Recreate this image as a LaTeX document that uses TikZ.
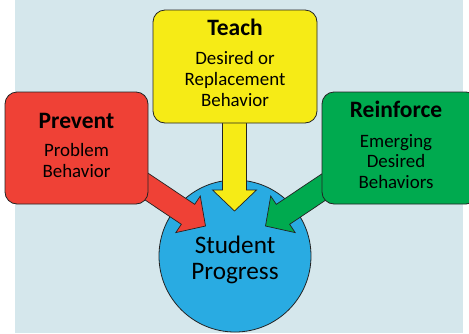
\documentclass[tikz,border=0pt]{standalone}
\usepackage{fontspec}
\setmainfont{Carlito}
\usetikzlibrary{calc}
\definecolor{bgc}{RGB}{213,231,236}
\definecolor{redc}{RGB}{239,65,54}
\definecolor{yelc}{RGB}{246,235,22}
\definecolor{grnc}{RGB}{0,170,79}
\definecolor{bluc}{RGB}{41,171,226}
\definecolor{edgec}{RGB}{35,35,35}
\newcommand{\blkarrow}[3]{%
  \coordinate (#3-base) at ($(#3)!21pt!(#2)$);
  \draw[arrowbody, fill=#1]
    ($(#2)!12pt!90:(#3)$) -- ($(#3-base)!12pt!-90:(#2)$) --
    ($(#3-base)!22pt!-90:(#2)$) -- (#3) --
    ($(#3-base)!22pt!90:(#2)$) -- ($(#3-base)!12pt!90:(#2)$) --
    ($(#2)!12pt!-90:(#3)$) -- cycle;}
\begin{document}
\begin{tikzpicture}[x=1pt,y=-1pt,
  box/.style={draw=edgec, line width=0.8pt, rounded corners=12pt, inner sep=0pt},
  arrowbody/.style={draw=edgec, line width=0.7pt, line join=miter},
  ttl/.style={font=\bfseries\fontsize{23.5}{27}\selectfont, anchor=base, inner sep=0pt},
  txt/.style={font=\fontsize{18.9}{21}\selectfont, anchor=base, inner sep=0pt},
  big/.style={font=\fontsize{25.2}{28}\selectfont, anchor=base, inner sep=0pt}]
\useasboundingbox (0,0) rectangle (469,333);
\fill[bgc] (15,0) rectangle (463,333);
\node[circle, draw=edgec, line width=0.8pt, fill=bluc, minimum size=152pt, inner sep=0pt] (sp) at (235,256) {};
\coordinate (tailr) at (130,175.5);
\coordinate (tipr) at (205.5,226);
\coordinate (taily) at (234.5,115);
\coordinate (tipy) at (234.5,211);
\coordinate (tailg) at (341,175.5);
\coordinate (tipg) at (265.5,226);
\blkarrow{redc}{tailr}{tipr}
\blkarrow{yelc}{taily}{tipy}
\blkarrow{grnc}{tailg}{tipg}
\node[box, fill=yelc, minimum width=164pt, minimum height=113pt] (teach) at (235,66.5) {};
\node[box, fill=redc, minimum width=143pt, minimum height=112pt] (prev) at (76.5,148) {};
\node[box, fill=grnc, minimum width=156pt, minimum height=112pt] (reinf) at (400,148) {};
\node[ttl] (t1) at (235,35) {Teach};
\node[txt] (t2) at (235,64) {Desired or};
\node[txt] (t3) at (235,85) {Replacement};
\node[txt] (t4) at (235,106) {Behavior};
\node[ttl] (p1) at (76.5,128) {Prevent};
\node[txt] (p2) at (76.5,156.5) {Problem};
\node[txt] (p3) at (76.5,177) {Behavior};
\node[ttl] (r1) at (396,117) {Reinforce};
\node[txt] (r2) at (396,147) {Emerging};
\node[txt] (r3) at (396,167) {Desired};
\node[txt] (r4) at (396,188) {Behaviors};
\node[big] (s1) at (235,253) {Student};
\node[big] (s2) at (235,279.5) {Progress};
\end{tikzpicture}
\end{document}
